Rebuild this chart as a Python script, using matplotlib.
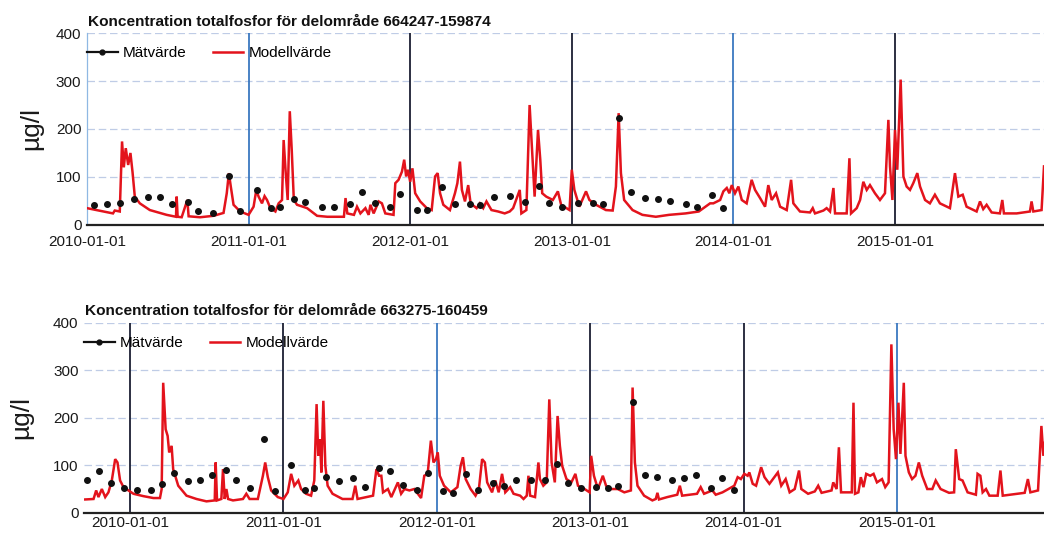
import matplotlib
matplotlib.use("Agg")
import matplotlib.pyplot as plt
from matplotlib.lines import Line2D

plt.rcParams['font.family'] = ['Liberation Sans', 'DejaVu Sans']

# x values are decimal years
years = [2010, 2011, 2012, 2013, 2014, 2015]
year_labels = ["2010-01-01", "2011-01-01", "2012-01-01", "2013-01-01", "2014-01-01", "2015-01-01"]

# ---- delområde 664247-159874 ----
top_title = "Koncentration totalfosfor för delområde 664247-159874"
top_model_t = [
    2010.000, 2010.161, 2010.172, 2010.203, 2010.217, 2010.228, 2010.240, 2010.255, 2010.269, 2010.282,
    2010.296, 2010.327, 2010.389, 2010.493, 2010.551, 2010.555, 2010.561, 2010.586, 2010.621, 2010.629,
    2010.700, 2010.783, 2010.845, 2010.865, 2010.878, 2010.890, 2010.907, 2010.948, 2011.000,
    2011.031, 2011.048, 2011.062, 2011.083, 2011.099, 2011.114, 2011.135, 2011.166, 2011.186, 2011.207,
    2011.217, 2011.230, 2011.242, 2011.255, 2011.267, 2011.280, 2011.300, 2011.362, 2011.424, 2011.487,
    2011.590, 2011.600, 2011.611, 2011.652,
    2011.671, 2011.692, 2011.723, 2011.743, 2011.754, 2011.774, 2011.805, 2011.825, 2011.846, 2011.897,
    2011.908, 2011.928, 2011.949, 2011.963, 2011.975, 2011.986, 2012.000, 2012.014, 2012.031, 2012.062,
    2012.103, 2012.133, 2012.154, 2012.170, 2012.185, 2012.205, 2012.246, 2012.277, 2012.292, 2012.308,
    2012.320, 2012.339, 2012.359, 2012.374, 2012.411, 2012.431, 2012.452, 2012.472, 2012.503, 2012.544,
    2012.585, 2012.616, 2012.637, 2012.678, 2012.688, 2012.719, 2012.739, 2012.756, 2012.770, 2012.791,
    2012.805, 2012.817, 2012.842, 2012.883, 2012.914, 2012.934, 2012.986, 2013.000, 2013.016, 2013.047,
    2013.088, 2013.109, 2013.150, 2013.211, 2013.253, 2013.273, 2013.290, 2013.304, 2013.324, 2013.376,
    2013.437, 2013.520, 2013.602, 2013.704, 2013.786,
    2013.794, 2013.856, 2013.876, 2013.918, 2013.938, 2013.959, 2013.975, 2013.990, 2014.010, 2014.031,
    2014.052, 2014.082, 2014.113, 2014.134, 2014.165, 2014.196, 2014.216, 2014.237, 2014.264, 2014.289,
    2014.330, 2014.357, 2014.371, 2014.412, 2014.474, 2014.491, 2014.505, 2014.557, 2014.577, 2014.598,
    2014.619, 2014.629, 2014.701, 2014.718, 2014.728, 2014.763, 2014.784, 2014.804, 2014.825, 2014.845,
    2014.876, 2014.907, 2014.938, 2014.959, 2014.969, 2014.984, 2015.000, 2015.014, 2015.035, 2015.052,
    2015.072, 2015.093, 2015.113, 2015.138, 2015.155, 2015.186, 2015.216, 2015.247, 2015.278, 2015.340,
    2015.371, 2015.392, 2015.419, 2015.443, 2015.505, 2015.526, 2015.546, 2015.567, 2015.598, 2015.649,
    2015.664, 2015.674, 2015.753, 2015.835, 2015.845, 2015.856, 2015.907, 2015.922,
]
top_model_v = [
    35, 24, 30, 28, 174, 120, 160, 125, 150, 110,
    59, 45, 31, 21, 17, 59, 17, 16, 52, 18,
    16, 19, 25, 66, 108, 80, 42, 28, 21,
    38, 73, 59, 45, 60, 52, 35, 28, 45, 52,
    177, 108, 52, 237, 157, 52, 42, 35, 19, 17,
    17, 56, 24, 21,
    38, 24, 35, 21, 42, 24, 49, 45, 24, 21,
    87, 94, 111, 136, 101, 115, 90, 118, 66, 49,
    35, 31, 101, 108, 66, 42, 31, 66, 87, 132,
    73, 49, 83, 45, 35, 45, 35, 49, 31, 28,
    24, 28, 35, 73, 24, 31, 250, 143, 59, 198,
    136, 66, 59, 52, 70, 42, 31, 115, 73, 38,
    70, 52, 42, 31, 30, 80, 233, 108, 52, 31,
    21, 17, 21, 24, 28,
    30, 45, 45, 52, 70, 77, 66, 83, 66, 80,
    52, 45, 94, 73, 56, 38, 83, 52, 66, 38,
    31, 94, 45, 28, 26, 35, 24, 30, 35, 28,
    77, 24, 24, 139, 24, 35, 52, 90, 73, 83,
    66, 52, 66, 219, 122, 52, 198, 115, 303, 101,
    80, 73, 87, 108, 80, 52, 45, 63, 45, 35,
    108, 59, 63, 38, 28, 49, 33, 42, 26, 24,
    52, 24, 24, 28, 49, 28, 31, 122,
]
top_meas_t = [
    2010.043, 2010.126, 2010.207, 2010.292, 2010.379, 2010.453, 2010.528, 2010.623, 2010.689, 2010.778,
    2010.878, 2010.948, 2011.052, 2011.139, 2011.197, 2011.280, 2011.348, 2011.455, 2011.528, 2011.630,
    2011.702, 2011.784, 2011.877, 2011.938, 2012.041, 2012.103, 2012.195, 2012.277, 2012.370, 2012.431,
    2012.517, 2012.616, 2012.708, 2012.795, 2012.862, 2012.940, 2013.037, 2013.129, 2013.191, 2013.290,
    2013.366, 2013.454, 2013.534, 2013.608, 2013.704, 2013.776, 2013.866, 2013.938,
]
top_meas_v = [
    42, 43, 45, 54, 59, 59, 44, 47, 28, 24,
    101, 29, 72, 35, 38, 54, 47, 38, 38, 44,
    68, 45, 38, 64, 31, 31, 79, 44, 44, 42,
    58, 61, 47, 81, 45, 37, 45, 45, 44, 223,
    68, 56, 54, 50, 44, 38, 63, 35,
]

# ---- delområde 663275-160459 ----
bot_title = "Koncentration totalfosfor för delområde 663275-160459"
bot_model_t = [
    2009.708, 2009.762, 2009.779, 2009.794, 2009.816, 2009.838, 2009.859, 2009.881, 2009.903, 2009.918,
    2009.935, 2009.957, 2009.989, 2010.022, 2010.087, 2010.152, 2010.195, 2010.206, 2010.216, 2010.232,
    2010.245, 2010.255, 2010.271, 2010.281, 2010.314, 2010.368, 2010.433, 2010.498, 2010.552, 2010.558,
    2010.567, 2010.595, 2010.606, 2010.617, 2010.628, 2010.639, 2010.671, 2010.736, 2010.758, 2010.779,
    2010.833, 2010.866, 2010.881, 2010.898, 2010.920, 2010.963, 2011.000, 2011.028, 2011.050, 2011.071,
    2011.097, 2011.115, 2011.147, 2011.180, 2011.201, 2011.216, 2011.227, 2011.238, 2011.247, 2011.260,
    2011.273, 2011.288, 2011.320, 2011.385, 2011.450, 2011.468, 2011.483,
    2011.584, 2011.606, 2011.623, 2011.638, 2011.649, 2011.681, 2011.703, 2011.746, 2011.767, 2011.789,
    2011.821, 2011.853, 2011.897, 2011.918, 2011.940, 2011.961, 2011.978, 2011.994, 2012.006, 2012.019,
    2012.047, 2012.091, 2012.134, 2012.155, 2012.170, 2012.188, 2012.220, 2012.252, 2012.274, 2012.295,
    2012.313, 2012.328, 2012.360, 2012.381, 2012.403, 2012.425, 2012.446, 2012.478, 2012.500, 2012.543,
    2012.565, 2012.586, 2012.597, 2012.608, 2012.640, 2012.662, 2012.672, 2012.694, 2012.716, 2012.733,
    2012.748, 2012.769, 2012.787, 2012.802, 2012.817, 2012.845, 2012.877, 2012.903, 2012.920, 2012.963,
    2012.996, 2013.006, 2013.024, 2013.050, 2013.082, 2013.103, 2013.136, 2013.179, 2013.222, 2013.265,
    2013.276, 2013.291, 2013.308, 2013.351, 2013.405, 2013.427, 2013.438, 2013.448, 2013.502, 2013.567,
    2013.584, 2013.599, 2013.696,
    2013.720, 2013.742, 2013.796, 2013.818, 2013.862, 2013.939, 2013.961, 2013.982, 2014.004, 2014.026,
    2014.037, 2014.059, 2014.081, 2014.114, 2014.136, 2014.168, 2014.223, 2014.245, 2014.274, 2014.300,
    2014.333, 2014.361, 2014.376, 2014.420, 2014.464, 2014.486, 2014.508, 2014.573, 2014.584, 2014.606,
    2014.621, 2014.635, 2014.705, 2014.716, 2014.726, 2014.748, 2014.764, 2014.781, 2014.799, 2014.825,
    2014.847, 2014.869, 2014.902, 2014.923, 2014.945, 2014.963, 2014.978, 2014.993, 2015.009, 2015.022,
    2015.044, 2015.055, 2015.077, 2015.098, 2015.120, 2015.142, 2015.164, 2015.197, 2015.230, 2015.252,
    2015.284, 2015.339, 2015.372, 2015.383, 2015.405, 2015.427, 2015.460, 2015.514, 2015.525, 2015.543,
    2015.558, 2015.580, 2015.602, 2015.656, 2015.674, 2015.689, 2015.832, 2015.853, 2015.869, 2015.919,
    2015.941, 2015.954, 2015.967,
]
bot_model_v = [
    28, 29, 47, 33, 50, 33, 43, 68, 113, 106,
    68, 54, 47, 40, 35, 31, 31, 50, 274, 176,
    162, 127, 141, 92, 57, 36, 29, 24, 26, 106,
    26, 29, 92, 29, 50, 29, 26, 29, 40, 29,
    29, 78, 106, 75, 47, 33, 29, 43, 82, 57,
    68, 50, 40, 36, 68, 229, 120, 155, 85, 236,
    99, 57, 40, 29, 29, 57, 29,
    36, 92, 78, 78, 43, 50, 33, 64, 40, 50,
    47, 50, 31, 78, 82, 152, 106, 113, 127, 78,
    57, 43, 54, 99, 117, 71, 50, 36, 50, 113,
    106, 64, 43, 68, 43, 82, 43, 54, 40, 36,
    29, 36, 78, 36, 33, 106, 71, 57, 64, 239,
    106, 64, 204, 141, 99, 71, 64, 82, 57, 50,
    43, 120, 78, 50, 78, 57, 50, 50, 43, 47,
    264, 106, 57, 36, 26, 29, 42, 28, 33, 38,
    57, 36, 40,
    54, 40, 47, 38, 43, 57, 75, 71, 82, 78,
    85, 61, 57, 96, 75, 61, 85, 57, 71, 43,
    50, 89, 50, 40, 45, 57, 42, 47, 64, 50,
    138, 43, 43, 232, 40, 43, 75, 54, 82, 78,
    82, 64, 71, 54, 64, 355, 176, 113, 232, 124,
    274, 120, 85, 71, 78, 106, 78, 50, 50, 68,
    50, 42, 43, 134, 71, 68, 43, 38, 82, 78,
    43, 50, 36, 36, 89, 36, 42, 71, 43, 47,
    183, 120, 155,
]
bot_meas_t = [
    2009.719, 2009.799, 2009.877, 2009.963, 2010.043, 2010.134, 2010.206, 2010.288, 2010.379, 2010.455,
    2010.532, 2010.628, 2010.688, 2010.779, 2010.872, 2010.946, 2011.050, 2011.141, 2011.201, 2011.277,
    2011.359, 2011.455, 2011.530, 2011.623, 2011.696, 2011.778, 2011.869, 2011.940, 2012.043, 2012.108,
    2012.192, 2012.269, 2012.364, 2012.440, 2012.517, 2012.612, 2012.705, 2012.784, 2012.856, 2012.938,
    2013.039, 2013.114, 2013.183, 2013.280, 2013.356, 2013.438, 2013.530, 2013.610, 2013.692, 2013.786,
    2013.862, 2013.939,
]
bot_meas_v = [
    69, 87, 62, 52, 47, 47, 61, 83, 66, 69,
    80, 90, 69, 52, 155, 45, 101, 48, 52, 75,
    66, 73, 54, 94, 87, 59, 48, 83, 45, 42,
    82, 48, 63, 56, 69, 70, 68, 103, 62, 52,
    54, 52, 57, 234, 80, 75, 70, 73, 80, 52,
    73, 47,
]

RED = '#e3131c'
DARK = '#1b1f33'
BLUE = '#3a78c0'


def draw_panel(ax, model_t, model_v, meas_t, meas_v, xlim, year_colors, show_left, label_x, xpad):
    ax.set_xlim(*xlim)
    ax.set_ylim(0, 400)
    for yr, c in zip(years, year_colors):
        if c is not None:
            ax.axvline(yr, color=c, lw=1.3, zorder=1)
    ax.set_yticks([0, 100, 200, 300, 400])
    ax.yaxis.grid(True, linestyle=(0, (6, 3)), color='#bfcce6', lw=0.9)
    ax.set_axisbelow(True)
    ax.plot(model_t, model_v, color=RED, lw=1.8, zorder=3, solid_joinstyle='miter')
    ax.plot(meas_t, meas_v, 'o', color='#111111', ms=4, zorder=4)

    ax.set_xticks(years)
    ax.set_xticklabels(year_labels)
    ax.tick_params(length=0, labelsize=11, labelcolor='#1a1a1a')
    ax.tick_params(axis='x', pad=xpad)
    ax.tick_params(axis='y', pad=4)
    for s in ['top', 'right']:
        ax.spines[s].set_visible(False)
    ax.spines['bottom'].set_color('#222222')
    ax.spines['bottom'].set_linewidth(1.6)
    if show_left:
        ax.spines['left'].set_color('#8fb8e3')
        ax.spines['left'].set_linewidth(0.9)
    else:
        ax.spines['left'].set_visible(False)

    ax.set_ylabel('µg/l', fontsize=19, color='#1a1a1a')
    ax.yaxis.set_label_coords(label_x, 0.5)

    handles = [
        Line2D([], [], color='#111111', lw=1.6, marker='o', ms=3.5),
        Line2D([], [], color=RED, lw=1.8),
    ]
    ax.legend(handles, ['Mätvärde', 'Modellvärde'], loc='upper left', ncol=2,
              bbox_to_anchor=(0.0, 0.93), frameon=False, fontsize=11,
              handlelength=2.0, handletextpad=0.35, columnspacing=1.7,
              borderaxespad=0, borderpad=0)


fig = plt.figure(figsize=(10.44, 5.33), dpi=100)

ax1 = fig.add_axes([0.0833, 0.578, 0.9167, 0.360])
draw_panel(ax1, top_model_t, top_model_v, top_meas_t, top_meas_v,
           (2010.0, 2015.922), [None, BLUE, DARK, DARK, BLUE, DARK], True, -0.046, 7)
fig.text(0.0843, 1 - 22 / 533, top_title, fontsize=11.1, fontweight='bold',
         va='center', ha='left', color='#111111')

ax2 = fig.add_axes([0.0805, 0.038, 0.9195, 0.356])
draw_panel(ax2, bot_model_t, bot_model_v, bot_meas_t, bot_meas_v,
           (2009.700, 2015.958), [DARK, DARK, BLUE, DARK, DARK, BLUE], False, -0.053, 2.5)
fig.text(0.0815, 1 - 311 / 533, bot_title, fontsize=11.1, fontweight='bold',
         va='center', ha='left', color='#111111')

fig.savefig('out.png', dpi=100, facecolor='white')
